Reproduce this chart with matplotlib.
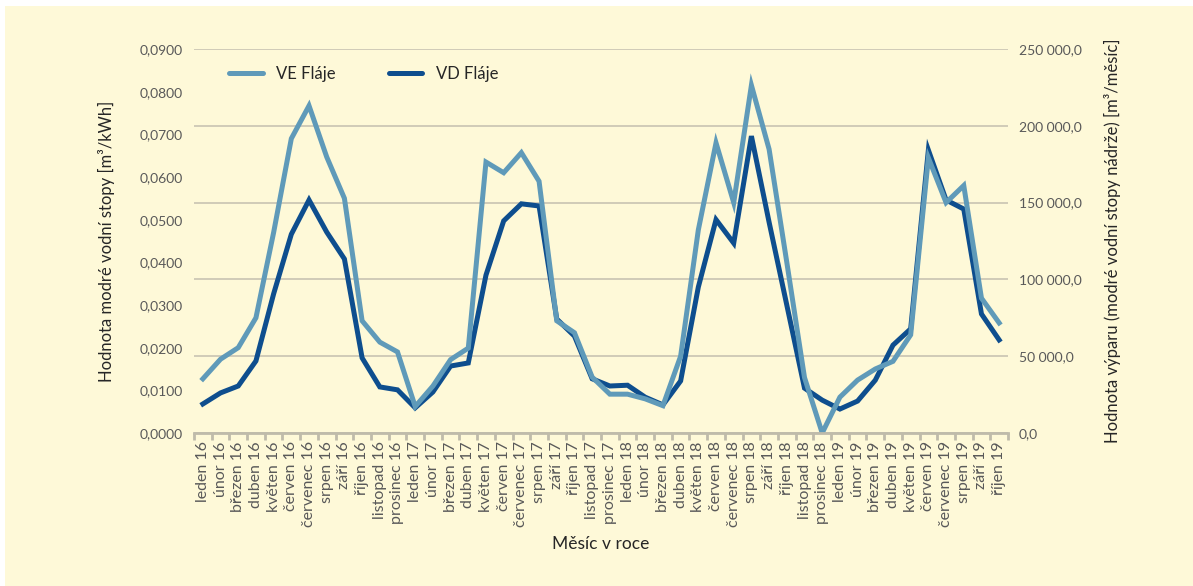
import matplotlib.pyplot as plt
from matplotlib.patches import Rectangle
from matplotlib.ticker import FuncFormatter, MultipleLocator
from matplotlib.lines import Line2D

plt.rcParams['font.family'] = ['Lato', 'DejaVu Sans']

months = ['leden', 'únor', 'březen', 'duben', 'květen', 'červen', 'červenec',
          'srpen', 'září', 'říjen', 'listopad', 'prosinec']
labels = [f'{m} {y}' for y in (16, 17, 18) for m in months] + [f'{m} 19' for m in months[:10]]

# VE Fláje - modrá vodní stopa [m3/kWh] (levá osa)
ve_flaje = [0.0127, 0.0173, 0.0200, 0.0270, 0.0470, 0.0690, 0.0767, 0.0647, 0.0550, 0.0263,
            0.0213, 0.0190, 0.0062, 0.0110, 0.0172, 0.0199, 0.0635, 0.0610, 0.0657, 0.0590,
            0.0263, 0.0235, 0.0131, 0.0091, 0.0091, 0.0080, 0.0064, 0.0180, 0.0476, 0.0680,
            0.0540, 0.0815, 0.0665, 0.0400, 0.0130, 0.0000, 0.0084, 0.0124, 0.0150, 0.0168,
            0.0230, 0.0645, 0.0540, 0.0580, 0.0316, 0.0258]

# VD Fláje - výpar [m3/měsíc] (pravá osa)
vd_flaje = [18900, 26100, 30600, 46900, 90600, 129400, 151700, 130800, 113300, 48900,
            30000, 28100, 16400, 26700, 43600, 45600, 102800, 138100, 149200, 147800,
            74200, 63100, 35300, 30600, 31100, 23300, 18300, 33900, 95000, 138900,
            123600, 193300, 137200, 83300, 29200, 21400, 15600, 20800, 34400, 57200,
            67800, 184200, 151700, 145800, 77500, 60600]

bg = '#FEF9D8'
c_ve = '#5F9AB9'
c_vd = '#0E4E8E'
txt = '#595959'

fig = plt.figure(figsize=(11.93, 5.86), dpi=100)
fig.patch.set_facecolor('white')
fig.patches.append(Rectangle((5 / 1193, 0), 1, 1 - 6 / 586, transform=fig.transFigure,
                             facecolor=bg, edgecolor='none', zorder=-10))

ax = fig.add_axes([194 / 1193, 153 / 586, 814 / 1193, 384 / 586])
ax2 = ax.twinx()
ax.set_zorder(ax2.get_zorder() + 1)
ax.patch.set_visible(False)
ax2.patch.set_visible(False)

x = list(range(len(labels)))
ax2.plot(x, vd_flaje, color=c_vd, lw=3.6, solid_joinstyle='miter')
ax.plot(x, ve_flaje, color=c_ve, lw=3.6, solid_joinstyle='miter')

ax.set_xlim(-0.5, len(labels) - 0.5)
ax.set_ylim(0, 0.09)
ax2.set_ylim(0, 250000)

ax.yaxis.set_major_locator(MultipleLocator(0.01))
ax.yaxis.set_major_formatter(FuncFormatter(lambda v, p: f'{v:.4f}'.replace('.', ',')))
ax2.yaxis.set_major_locator(MultipleLocator(50000))
ax2.yaxis.set_major_formatter(
    FuncFormatter(lambda v, p: f'{v:,.1f}'.replace(',', ' ').replace('.', ',')))

ax2.grid(axis='y', color='#C9C4B2', lw=1.2)
ax2.set_axisbelow(True)

for a in (ax, ax2):
    for s in a.spines.values():
        s.set_visible(False)
    a.tick_params(axis='y', length=0, labelsize=10, labelcolor=txt, pad=8)

ax.spines['bottom'].set_visible(True)
ax.spines['bottom'].set_color('#BFBBAA')
ax.spines['bottom'].set_linewidth(2)

ax.set_xticks(x)
ax.set_xticklabels(labels, rotation=90, fontsize=11.5, color=txt)
ax.tick_params(axis='x', length=0, pad=6)
ax.set_xticks([i - 0.5 for i in range(len(labels) + 1)], minor=True)
ax.tick_params(axis='x', which='minor', length=5, width=2, color='#BFBBAA')
ax2.tick_params(axis='x', length=0)

ax.set_ylabel('Hodnota modré vodní stopy [m³/kWh]', fontsize=12, color='#262626', labelpad=18)
ax2.set_ylabel('Hodnota výparu (modré vodní stopy nádrže) [m³/měsíc]', fontsize=12,
               color='#262626', labelpad=16)
ax.set_xlabel('Měsíc v roce', fontsize=12.5, color='#262626', labelpad=6)

handles = [Line2D([], [], color=c_ve, lw=3.6, solid_capstyle='round'),
           Line2D([], [], color=c_vd, lw=3.6, solid_capstyle='round')]
ax.legend(handles, ['VE Fláje', 'VD Fláje'], loc='upper left', ncol=2, frameon=False,
          fontsize=12, bbox_to_anchor=(0.025, 0.995), handlelength=2.0, columnspacing=3.2,
          labelcolor='#262626')

fig.savefig('out.png', dpi=100, facecolor=fig.get_facecolor())
